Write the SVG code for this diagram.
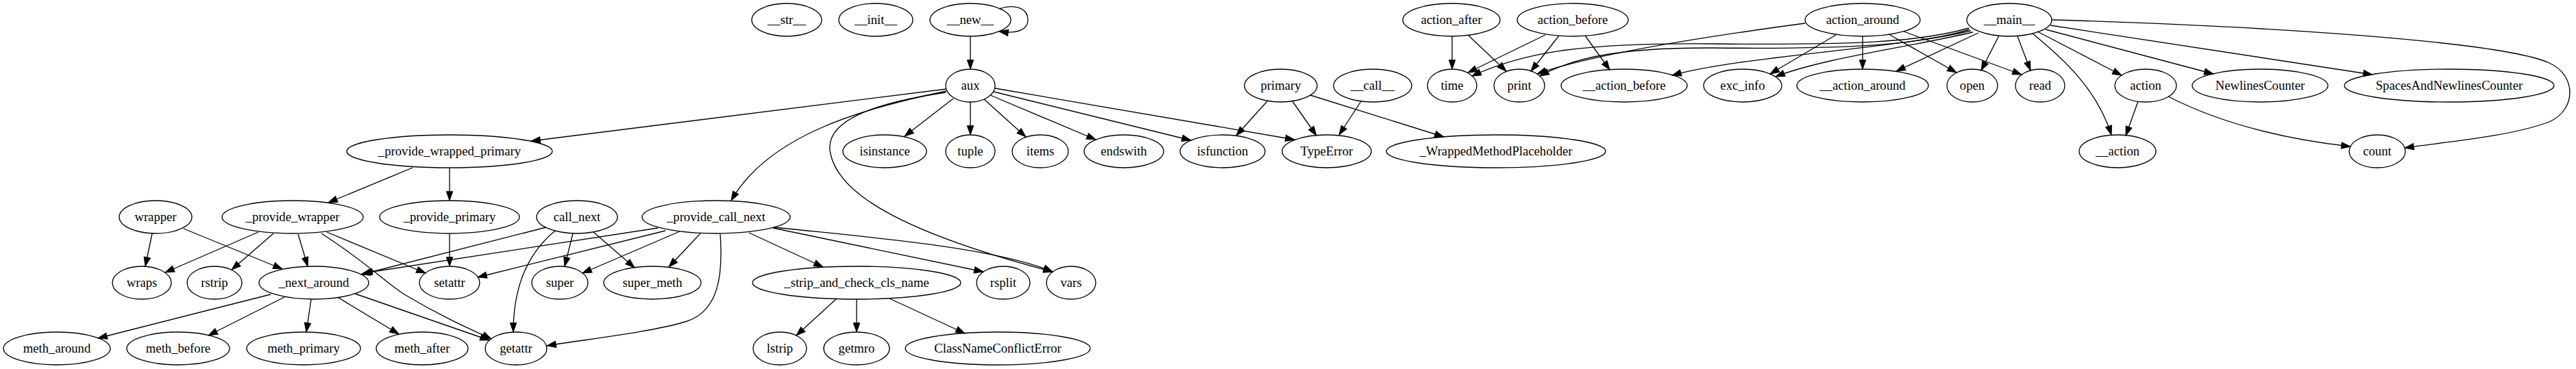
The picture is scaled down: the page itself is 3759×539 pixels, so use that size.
<svg xmlns="http://www.w3.org/2000/svg" width="3759" height="539" viewBox="0 0 3759 539">
<style>
.n ellipse{fill:none;stroke:#000;stroke-width:1.33}
.n text{font-family:"Liberation Serif","Times New Roman",serif;font-size:18.67px;text-anchor:middle;fill:#000}
#edges path{fill:none;stroke:#000;stroke-width:1.33;marker-end:url(#a)}
</style>
<defs>
<marker id="a" markerUnits="userSpaceOnUse" markerWidth="14" markerHeight="10" refX="13.3" refY="5" orient="auto" overflow="visible">
<path d="M0,0.33 L13.3,5 L0,9.67 z" fill="#000" stroke="#000" stroke-width="1"/>
</marker>
</defs>
<rect width="3759" height="539" fill="#fff"/>
<g id="edges">
<path d="M1458,13 C1486,4 1500,15 1500,29 C1500,42 1487,50 1458,46"/>
<path d="M1416,53 L1416,101"/>
<path d="M1381,130 L775,206"/>
<path d="M1381,133 C1250,160 1120,200 1067,293"/>
<path d="M1380,135 C1280,150 1200,175 1212,225 C1225,285 1320,340 1536,397"/>
<path d="M1391,144 L1320,199"/>
<path d="M1416,149 L1416,197"/>
<path d="M1436,145 L1497,200"/>
<path d="M1445,139 L1599,204"/>
<path d="M1450,134 L1738,205"/>
<path d="M1452,129 L1889,204"/>
<path d="M1849,148 L1804,198"/>
<path d="M1886,148 L1921,198"/>
<path d="M1912,139 L2107,200"/>
<path d="M1986,148 L1954,197"/>
<path d="M2119,53 L2119,101"/>
<path d="M2143,52 L2198,104"/>
<path d="M2255,51 L2142,106"/>
<path d="M2275,52 L2234,104"/>
<path d="M2313,52 L2349,102"/>
<path d="M2634,34 C2500,52 2320,80 2243,108"/>
<path d="M2679,51 L2583,108"/>
<path d="M2718,53 L2718,101"/>
<path d="M2756,50 L2855,106"/>
<path d="M2778,46 L2950,109"/>
<path d="M2873,41 C2800,62 2700,66 2500,64 C2300,62 2220,78 2148,111"/>
<path d="M2874,43 C2800,66 2700,72 2500,70 C2350,69 2290,88 2247,111"/>
<path d="M2876,45 C2760,72 2540,82 2440,110"/>
<path d="M2879,47 C2780,70 2660,85 2591,112"/>
<path d="M2887,48 L2767,104"/>
<path d="M2917,52 L2891,103"/>
<path d="M2944,53 L2963,103"/>
<path d="M2966,49 C3010,85 3060,130 3081,197"/>
<path d="M2973,46 L3096,110"/>
<path d="M2985,43 L3230,108"/>
<path d="M2992,37 L3462,109"/>
<path d="M2994,29 C3300,38 3650,60 3720,92 C3760,110 3760,160 3720,178 C3660,200 3570,207 3509,216"/>
<path d="M3120,148 L3102,198"/>
<path d="M3164,141 C3250,185 3350,205 3430,214"/>
<path d="M602,245 L479,296"/>
<path d="M656,246 L656,293"/>
<path d="M222,341 L212,389"/>
<path d="M268,334 L412,393"/>
<path d="M377,339 L241,398"/>
<path d="M399,341 L338,394"/>
<path d="M435,342 L449,389"/>
<path d="M477,339 L621,399"/>
<path d="M469,341 C530,380 560,410 590,430 C640,460 680,478 717,495"/>
<path d="M656,342 L656,389"/>
<path d="M797,332 L527,401"/>
<path d="M836,341 L824,389"/>
<path d="M866,339 L926,391"/>
<path d="M810,337 C770,370 749,420 749,485"/>
<path d="M960,333 L530,399"/>
<path d="M971,337 L697,405"/>
<path d="M992,338 L850,399"/>
<path d="M1022,341 L976,390"/>
<path d="M1051,342 C1055,400 1050,455 1000,470 C950,485 860,495 798,505"/>
<path d="M1093,340 L1201,390"/>
<path d="M1128,333 L1435,397"/>
<path d="M1130,332 C1250,345 1450,360 1536,397"/>
<path d="M395,430 L143,494"/>
<path d="M415,434 L304,490"/>
<path d="M454,437 L447,485"/>
<path d="M494,435 L582,488"/>
<path d="M518,429 L714,497"/>
<path d="M1220,437 L1162,490"/>
<path d="M1250,437 L1250,485"/>
<path d="M1298,436 L1408,487"/>
</g>
<g id="n_str" class="n"><ellipse cx="1148" cy="29" rx="51" ry="24"/><text x="1148" y="35">__str__</text></g>
<g id="n_init" class="n"><ellipse cx="1278" cy="29" rx="54" ry="24"/><text x="1278" y="35">__init__</text></g>
<g id="n_new" class="n"><ellipse cx="1416" cy="29" rx="59" ry="24"/><text x="1416" y="35">__new__</text></g>
<g id="n_action_after" class="n"><ellipse cx="2118" cy="29" rx="71" ry="24"/><text x="2118" y="35">action_after</text></g>
<g id="n_action_before" class="n"><ellipse cx="2295" cy="29" rx="81" ry="24"/><text x="2295" y="35">action_before</text></g>
<g id="n_action_around" class="n"><ellipse cx="2718" cy="29" rx="84" ry="24"/><text x="2718" y="35">action_around</text></g>
<g id="n_main" class="n"><ellipse cx="2932" cy="29" rx="62" ry="24"/><text x="2932" y="35">__main__</text></g>
<g id="n_aux" class="n"><ellipse cx="1416" cy="125" rx="36" ry="24"/><text x="1416" y="131">aux</text></g>
<g id="n_primary" class="n"><ellipse cx="1869" cy="125" rx="53" ry="24"/><text x="1869" y="131">primary</text></g>
<g id="n_call" class="n"><ellipse cx="2003" cy="125" rx="57" ry="24"/><text x="2003" y="131">__call__</text></g>
<g id="n_time" class="n"><ellipse cx="2119" cy="125" rx="36" ry="24"/><text x="2119" y="131">time</text></g>
<g id="n_print" class="n"><ellipse cx="2217" cy="125" rx="37" ry="24"/><text x="2217" y="131">print</text></g>
<g id="n_action_before2" class="n"><ellipse cx="2370" cy="125" rx="92" ry="24"/><text x="2370" y="131">__action_before</text></g>
<g id="n_exc_info" class="n"><ellipse cx="2543" cy="125" rx="57" ry="24"/><text x="2543" y="131">exc_info</text></g>
<g id="n_action_around2" class="n"><ellipse cx="2718" cy="125" rx="96" ry="24"/><text x="2718" y="131">__action_around</text></g>
<g id="n_open" class="n"><ellipse cx="2878" cy="125" rx="37" ry="24"/><text x="2878" y="131">open</text></g>
<g id="n_read" class="n"><ellipse cx="2977" cy="125" rx="36" ry="24"/><text x="2977" y="131">read</text></g>
<g id="n_action" class="n"><ellipse cx="3131" cy="125" rx="45" ry="24"/><text x="3131" y="131">action</text></g>
<g id="n_NewlinesCounter" class="n"><ellipse cx="3298" cy="125" rx="99" ry="24"/><text x="3298" y="131">NewlinesCounter</text></g>
<g id="n_SpacesAndNewlinesCounter" class="n"><ellipse cx="3574" cy="125" rx="153" ry="24"/><text x="3574" y="131">SpacesAndNewlinesCounter</text></g>
<g id="n_provide_wrapped_primary" class="n"><ellipse cx="656" cy="221" rx="150" ry="24"/><text x="656" y="227">_provide_wrapped_primary</text></g>
<g id="n_isinstance" class="n"><ellipse cx="1291" cy="221" rx="61" ry="24"/><text x="1291" y="227">isinstance</text></g>
<g id="n_tuple" class="n"><ellipse cx="1416" cy="221" rx="36" ry="24"/><text x="1416" y="227">tuple</text></g>
<g id="n_items" class="n"><ellipse cx="1518" cy="221" rx="41" ry="24"/><text x="1518" y="227">items</text></g>
<g id="n_endswith" class="n"><ellipse cx="1640" cy="221" rx="58" ry="24"/><text x="1640" y="227">endswith</text></g>
<g id="n_isfunction" class="n"><ellipse cx="1784" cy="221" rx="62" ry="24"/><text x="1784" y="227">isfunction</text></g>
<g id="n_TypeError" class="n"><ellipse cx="1936" cy="221" rx="65" ry="24"/><text x="1936" y="227">TypeError</text></g>
<g id="n_WrappedMethodPlaceholder" class="n"><ellipse cx="2183" cy="221" rx="160" ry="24"/><text x="2183" y="227">_WrappedMethodPlaceholder</text></g>
<g id="n_action3" class="n"><ellipse cx="3090" cy="221" rx="56" ry="24"/><text x="3090" y="227">__action</text></g>
<g id="n_count" class="n"><ellipse cx="3469" cy="221" rx="41" ry="24"/><text x="3469" y="227">count</text></g>
<g id="n_wrapper" class="n"><ellipse cx="227" cy="317" rx="53" ry="24"/><text x="227" y="323">wrapper</text></g>
<g id="n_provide_wrapper" class="n"><ellipse cx="427" cy="317" rx="103" ry="24"/><text x="427" y="323">_provide_wrapper</text></g>
<g id="n_provide_primary" class="n"><ellipse cx="656" cy="317" rx="102" ry="24"/><text x="656" y="323">_provide_primary</text></g>
<g id="n_call_next" class="n"><ellipse cx="842" cy="317" rx="59" ry="24"/><text x="842" y="323">call_next</text></g>
<g id="n_provide_call_next" class="n"><ellipse cx="1045" cy="317" rx="108" ry="24"/><text x="1045" y="323">_provide_call_next</text></g>
<g id="n_wraps" class="n"><ellipse cx="207" cy="413" rx="43" ry="24"/><text x="207" y="419">wraps</text></g>
<g id="n_rstrip" class="n"><ellipse cx="313" cy="413" rx="40" ry="24"/><text x="313" y="419">rstrip</text></g>
<g id="n_next_around" class="n"><ellipse cx="458" cy="413" rx="80" ry="24"/><text x="458" y="419">_next_around</text></g>
<g id="n_setattr" class="n"><ellipse cx="656" cy="413" rx="44" ry="24"/><text x="656" y="419">setattr</text></g>
<g id="n_super" class="n"><ellipse cx="817" cy="413" rx="41" ry="24"/><text x="817" y="419">super</text></g>
<g id="n_super_meth" class="n"><ellipse cx="952" cy="413" rx="71" ry="24"/><text x="952" y="419">super_meth</text></g>
<g id="n_strip_and_check_cls_name" class="n"><ellipse cx="1250" cy="413" rx="152" ry="24"/><text x="1250" y="419">_strip_and_check_cls_name</text></g>
<g id="n_rsplit" class="n"><ellipse cx="1464" cy="413" rx="39" ry="24"/><text x="1464" y="419">rsplit</text></g>
<g id="n_vars" class="n"><ellipse cx="1563" cy="413" rx="36" ry="24"/><text x="1563" y="419">vars</text></g>
<g id="n_meth_around" class="n"><ellipse cx="83" cy="509" rx="78" ry="24"/><text x="83" y="515">meth_around</text></g>
<g id="n_meth_before" class="n"><ellipse cx="260" cy="509" rx="75" ry="24"/><text x="260" y="515">meth_before</text></g>
<g id="n_meth_primary" class="n"><ellipse cx="443" cy="509" rx="83" ry="24"/><text x="443" y="515">meth_primary</text></g>
<g id="n_meth_after" class="n"><ellipse cx="616" cy="509" rx="67" ry="24"/><text x="616" y="515">meth_after</text></g>
<g id="n_getattr" class="n"><ellipse cx="753" cy="509" rx="45" ry="24"/><text x="753" y="515">getattr</text></g>
<g id="n_lstrip" class="n"><ellipse cx="1138" cy="509" rx="39" ry="24"/><text x="1138" y="515">lstrip</text></g>
<g id="n_getmro" class="n"><ellipse cx="1250" cy="509" rx="48" ry="24"/><text x="1250" y="515">getmro</text></g>
<g id="n_ClassNameConflictError" class="n"><ellipse cx="1456" cy="509" rx="135" ry="24"/><text x="1456" y="515">ClassNameConflictError</text></g>
</svg>
